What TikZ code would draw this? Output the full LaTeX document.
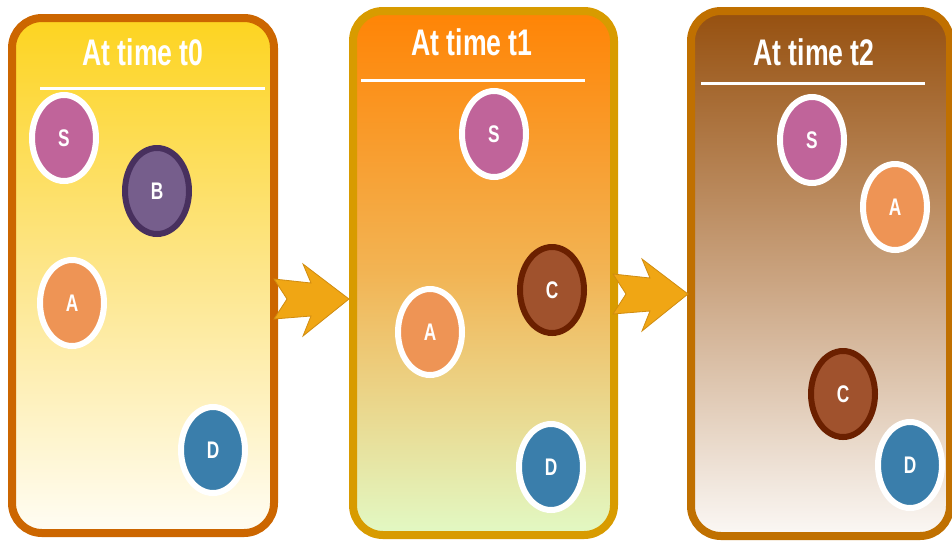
\documentclass[tikz,border=0pt]{standalone}
\usepackage{fontspec}
\setmainfont{Liberation Sans}
\newfontfamily\narrowfont[FakeStretch=0.72]{Liberation Sans}
\usetikzlibrary{shapes.geometric}

\definecolor{sunframe}{RGB}{204, 102, 0}
\definecolor{suntop}{RGB}{253, 212, 32}
\definecolor{sunmid}{RGB}{253, 230, 140}
\definecolor{sunbottom}{RGB}{255, 253, 244}
\definecolor{fireframe}{RGB}{216, 155, 0}
\definecolor{firetop}{RGB}{255, 132, 5}
\definecolor{firemid}{RGB}{242, 180, 84}
\definecolor{firebottom}{RGB}{226, 249, 196}
\definecolor{barkframe}{RGB}{192, 112, 0}
\definecolor{barktop}{RGB}{150, 80, 15}
\definecolor{barkmid}{RGB}{201, 162, 126}
\definecolor{barkbottom}{RGB}{251, 248, 245}
\definecolor{arrowgold}{RGB}{240, 166, 20}
\definecolor{arrowedge}{RGB}{208, 140, 16}
\definecolor{nodepink}{RGB}{192, 100, 154}
\definecolor{nodeplum}{RGB}{118, 94, 140}
\definecolor{plumring}{RGB}{72, 48, 94}
\definecolor{nodeorange}{RGB}{238, 148, 85}
\definecolor{nodeblue}{RGB}{58, 126, 171}
\definecolor{noderust}{RGB}{160, 82, 45}
\definecolor{rustring}{RGB}{107, 32, 0}

\tikzset{
  panel/.style={line width=8pt, rounded corners=30pt},
  title/.style={text=white, font=\narrowfont\bfseries\fontsize{37}{40}\selectfont},
  rule/.style={draw=white, line width=3pt},
  peer/.style={ellipse, minimum width=64pt, minimum height=86pt, inner sep=0pt,
    line width=6pt, draw=white, text=white,
    font=\narrowfont\bfseries\fontsize{24}{25}\selectfont},
  jump/.style={fill=arrowgold, draw=arrowedge, line width=0.8pt, line join=miter},
  chevron/.pic={
    \draw[jump] (0,0) -- (-46,-35) -- (-38,-16) -- (-75,-20) -- (-62,0)
      -- (-75,20) -- (-38,17) -- (-46,37) -- cycle;
  }
}

\begin{document}
\begin{tikzpicture}[x=1pt, y=-1pt]
    \path[use as bounding box, clip] (0,0) rectangle (952,542);

    % Time t0
    \draw[panel, draw=sunframe, top color=suntop, bottom color=sunbottom, middle color=sunmid]
        (12,18) rectangle (274,533);
    \node[title] (t0) at (143,52) {At time t0};
    \draw[rule] (40,88) -- (265,88);
    \node[peer, fill=nodepink] (s0) at (64,138) {S};
    \node[peer, fill=nodeplum, draw=plumring] (b0) at (157,191) {B};
    \node[peer, fill=nodeorange] (a0) at (72,303) {A};
    \node[peer, fill=nodeblue] (d0) at (213,450) {D};

    % Time t1
    \draw[panel, draw=fireframe, top color=firetop, bottom color=firebottom, middle color=firemid]
        (353,11) rectangle (614,535);
    \node[title] (t1) at (472,42) {At time t1};
    \draw[rule] (361,80) -- (585,80);
    \node[peer, fill=nodepink] (s1) at (494,134) {S};
    \node[peer, fill=noderust, draw=rustring] (c1) at (552,290) {C};
    \node[peer, fill=nodeorange] (a1) at (430,332) {A};
    \node[peer, fill=nodeblue] (d1) at (551,467) {D};

    % Time t2
    \draw[panel, draw=barkframe, top color=barktop, bottom color=barkbottom, middle color=barkmid]
        (691,11) rectangle (950,536);
    \node[title] (t2) at (814,52) {At time t2};
    \draw[rule] (701,83) -- (925,83);
    \node[peer, fill=nodepink] (s2) at (812,140) {S};
    \node[peer, fill=nodeorange] (a2) at (895,207) {A};
    \node[peer, fill=noderust, draw=rustring] (c2) at (843,394) {C};
    \node[peer, fill=nodeblue] (d2) at (910,465) {D};

    % Steps between panels
    \pic at (349,299) {chevron};
    \pic at (688,294) {chevron};
\end{tikzpicture}
\end{document}
